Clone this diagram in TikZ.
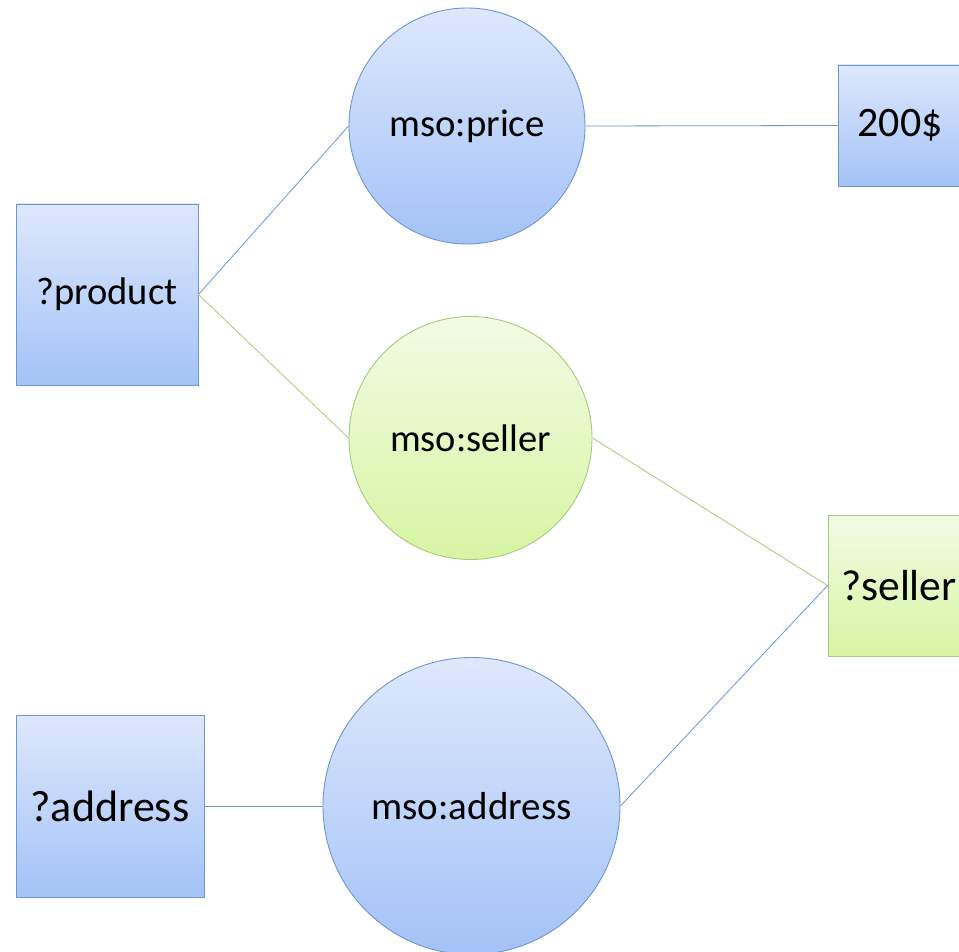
\documentclass[tikz,border=0pt]{standalone}
\usepackage{fontspec}
\setmainfont{Carlito}
\definecolor{bluetop}{HTML}{DDE8FC}
\definecolor{bluebot}{HTML}{A4C2F7}
\definecolor{blueline}{HTML}{6E96CF}
\definecolor{greentop}{HTML}{F2FBE4}
\definecolor{greenbot}{HTML}{D7F5A3}
\definecolor{greenline}{HTML}{A8C97E}
\tikzset{
  x=1pt, y=-1pt,
  bluefill/.style={top color=bluetop, bottom color=bluebot, draw=blueline, line width=0.9pt},
  greenfill/.style={top color=greentop, bottom color=greenbot, draw=greenline, line width=0.9pt},
  termbox/.style={rectangle, inner sep=0pt, text=black},
  propcircle/.style={circle, inner sep=0pt, text=black},
  blueedge/.style={draw=blueline, line width=0.8pt},
  greenedge/.style={draw=greenline, line width=0.8pt},
}
\newcommand{\fsz}[1]{\fontsize{#1}{#1}\selectfont}
\begin{document}
\begin{tikzpicture}
\useasboundingbox (0,0) rectangle (959,952);
\clip (0,0) rectangle (959,952);
\fill[white] (0,0) rectangle (959,952);

% subject / object terms
\node[termbox, bluefill, minimum width=182pt, minimum height=181pt, font=\fsz{38.5}] (product) at (107,294.5) {?product};
\node[termbox, bluefill, minimum width=124pt, minimum height=121pt, font=\fsz{42}] (price) at (900,125.5) {200\$};
\node[termbox, greenfill, minimum width=142pt, minimum height=141pt, font=\fsz{43.5}] (sellervar) at (899,585.5) {?seller};
\node[termbox, bluefill, minimum width=188pt, minimum height=182pt, font=\fsz{44}] (address) at (110,806) {?address};

% properties
\node[propcircle, bluefill, minimum size=236pt, font=\fsz{38.7}] (pprice) at (467,126) {mso:price};
\node[propcircle, greenfill, minimum size=243pt, font=\fsz{38.5}] (pseller) at (470.5,438) {mso:seller};
\node[propcircle, bluefill, minimum size=297pt, font=\fsz{39}] (paddress) at (471.5,806) {mso:address};

% connectors
\draw[blueedge] (product.east) -- (pprice.west);
\draw[greenedge] (product.east) -- (pseller.west);
\draw[blueedge] (pprice.east) -- (price.west);
\draw[greenedge] (pseller.east) -- (sellervar.west);
\draw[blueedge] (paddress.east) -- (sellervar.west);
\draw[blueedge] (address.east) -- (paddress.west);
\end{tikzpicture}
\end{document}
